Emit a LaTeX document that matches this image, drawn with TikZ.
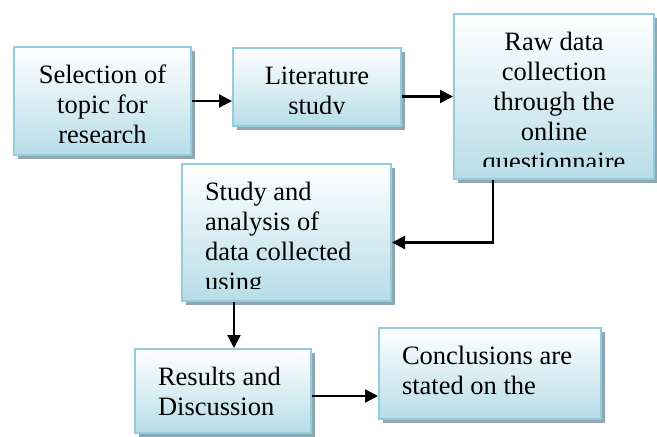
\documentclass[tikz,border=0pt]{standalone}
\usepackage{fontspec}
\setmainfont{Liberation Serif}
\usepackage{xcolor}
\usetikzlibrary{calc,shadows,arrows.meta}
\definecolor{edgecolorb}{HTML}{93CDDD}
\definecolor{fillcolorb}{HTML}{B7DDE8}
\definecolor{shadecolorb}{HTML}{8FA7B0}
\colorlet{edgecolor}{edgecolorb}
\colorlet{fillcolor}{fillcolorb}
\colorlet{shadecolor}{shadecolorb}
\newcommand{\stagefont}{\fontsize{26.5}{30}\selectfont}
\tikzstyle{stagebox} = [
    draw=edgecolor,
    line width=2pt,
    top color=white,
    bottom color=fillcolor,
    rectangle,
    inner sep=0pt,
    anchor=north west,
    drop shadow={shadow xshift=4pt, shadow yshift=-4pt, fill=shadecolor, opacity=1}
    ]
\tikzstyle{flowarrow} = [
    line width=2.3pt,
    -{Triangle[length=13pt,width=13pt]}
    ]
\tikzstyle{stagetext} = [
    inner sep=0pt,
    minimum width=0pt,
    minimum height=0pt
    ]
\tikzset{
    centred/.style 2 args={path picture={% text centred, cut off near the bottom
        \clip ([yshift=13pt]path picture bounding box.south west) rectangle (path picture bounding box.north east);
        \node[stagetext, anchor=base] at ([yshift=-36pt]path picture bounding box.north)
            {\parbox[t]{#1}{\noindent\centering\stagefont #2}};
    }},
    lefted/.style 2 args={path picture={% text flush left
        \clip ([yshift=13pt]path picture bounding box.south west) rectangle (path picture bounding box.north east);
        \node[stagetext, anchor=base west] at ([xshift=22pt,yshift=-36pt]path picture bounding box.north west)
            {\parbox[t]{#1}{\noindent\raggedright\stagefont #2}};
    }}
}
\begin{document}
\begin{tikzpicture}[x=1pt, y=-1pt]
\useasboundingbox (0,0) rectangle (657,437);

\node[stagebox, minimum width=177pt, minimum height=108pt,
    centred={170pt}{Selection of\\topic for\\research}] (sel) at (13,46) {};
\node[stagebox, minimum width=168pt, minimum height=78pt,
    centred={160pt}{Literature\\study}] (lit) at (232,47) {};
\node[stagebox, minimum width=200pt, minimum height=165pt,
    centred={195pt}{Raw data\\collection\\through the\\online\\questionnaire}] (raw) at (453,13) {};
\node[stagebox, minimum width=209pt, minimum height=137pt,
    lefted={185pt}{Study and\\analysis of\\data collected\\using}] (study) at (181,163) {};
\node[stagebox, minimum width=176pt, minimum height=84pt,
    lefted={150pt}{Results and\\Discussion}] (res) at (134,348) {};
\node[stagebox, minimum width=222pt, minimum height=91pt,
    lefted={198pt}{Conclusions are\\stated on the}] (conc) at (378,327) {};

\coordinate (drop) at ([xshift=11pt]res.north);
\coordinate (resout) at ([yshift=-5pt]res.east);

\draw[flowarrow] (sel.east) -- (sel.east -| lit.west);
\draw[flowarrow] (raw.west -| lit.east) -- (raw.west);
\draw[flowarrow] ([xshift=-61pt]raw.south) |- ([yshift=-10pt]study.east);
\draw[flowarrow] (drop |- study.south) -- (drop);
\draw[flowarrow] (resout) -- (resout -| conc.west);
\end{tikzpicture}
\end{document}
